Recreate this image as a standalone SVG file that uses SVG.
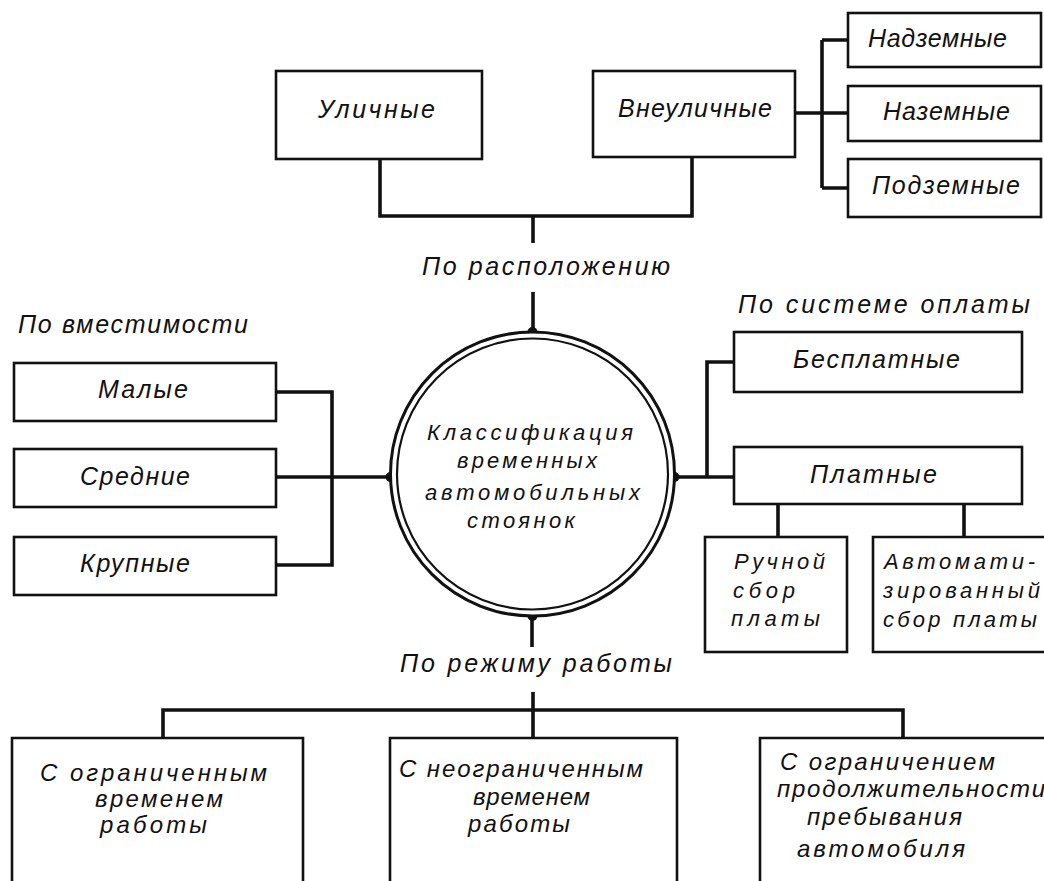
<svg xmlns="http://www.w3.org/2000/svg" width="1044" height="881" viewBox="0 0 1044 881">
<style>
.box{fill:#fff;stroke:#111;stroke-width:2.6}
.open{fill:#fff;stroke:#111;stroke-width:2.6}
.t{font-family:"Liberation Sans",Arial,sans-serif;font-style:italic;font-size:25px;fill:#111}
.s{font-size:22px}
.b{font-size:24px}
.c{fill:none;stroke:#111;stroke-width:3.6}
.dot{fill:#111}
</style>
<rect width="1044" height="881" fill="#fff"/>
<g id="connectors">
<path class="c" d="M380,159 V216 H692 V157"/>
<path class="c" d="M533,216 V243"/>
<path class="c" d="M533,292 V332"/>
<path class="c" d="M795,113 H848 M822,40 V188 M822,40 H848 M822,188 H848"/>
<path class="c" d="M276,392 H332 V565 H276 M276,477 H390"/>
<path class="c" d="M675,477 H734 M707,477 V362 H734"/>
<path class="c" d="M778,504 V537 M964,504 V537"/>
<path class="c" d="M532,616 V647 M533,692 V738 M163,738 V710 H903 V738"/>
<circle class="dot" cx="532.5" cy="332" r="5"/>
<circle class="dot" cx="390.5" cy="477" r="5"/>
<circle class="dot" cx="674.5" cy="477" r="5"/>
<circle class="dot" cx="532.5" cy="616" r="5"/>
</g>
<g id="center">
<circle cx="532.5" cy="474" r="142" fill="#fff" stroke="#111" stroke-width="3"/>
<circle cx="532.5" cy="474" r="135.5" fill="none" stroke="#111" stroke-width="2.2"/>
<text class="t s" x="427" y="440" textLength="206" lengthAdjust="spacing">Классификация</text>
<text class="t s" x="457" y="468" textLength="140" lengthAdjust="spacing">временных</text>
<text class="t s" x="425" y="500" textLength="215" lengthAdjust="spacing">автомобильных</text>
<text class="t s" x="467" y="528" textLength="108" lengthAdjust="spacing">стоянок</text>
</g>
<g id="label-location"><text class="t" x="422" y="275" textLength="248" lengthAdjust="spacing">По  расположению</text></g>
<g id="label-capacity"><text class="t" x="18" y="333" textLength="230" lengthAdjust="spacing">По  вместимости</text></g>
<g id="label-payment"><text class="t" x="738" y="313" textLength="292" lengthAdjust="spacing">По  системе   оплаты</text></g>
<g id="label-mode"><text class="t" x="400" y="672" textLength="272" lengthAdjust="spacing">По  режиму   работы</text></g>
<g id="street"><rect class="box" x="276" y="71" width="206" height="88"/><text class="t" x="318" y="118" textLength="117" lengthAdjust="spacing">Уличные</text></g>
<g id="offstreet"><rect class="box" x="593" y="71" width="202" height="86"/><text class="t" x="618" y="117" textLength="154" lengthAdjust="spacing">Внеуличные</text></g>
<g id="above"><rect class="box" x="848" y="13" width="193" height="54"/><text class="t" x="868" y="47" textLength="139" lengthAdjust="spacing">Надземные</text></g>
<g id="ground"><rect class="box" x="848" y="86" width="193" height="55"/><text class="t" x="883" y="120" textLength="127" lengthAdjust="spacing">Наземные</text></g>
<g id="under"><rect class="box" x="848" y="159" width="193" height="58"/><text class="t" x="872" y="194" textLength="148" lengthAdjust="spacing">Подземные</text></g>
<g id="small"><rect class="box" x="14" y="363" width="262" height="58"/><text class="t" x="98" y="398" textLength="90" lengthAdjust="spacing">Малые</text></g>
<g id="medium"><rect class="box" x="14" y="449" width="262" height="58"/><text class="t" x="80" y="485" textLength="110" lengthAdjust="spacing">Средние</text></g>
<g id="large"><rect class="box" x="14" y="537" width="262" height="58"/><text class="t" x="80" y="572" textLength="110" lengthAdjust="spacing">Крупные</text></g>
<g id="free"><rect class="box" x="734" y="332" width="288" height="60"/><text class="t" x="793" y="368" textLength="167" lengthAdjust="spacing">Бесплатные</text></g>
<g id="paid"><rect class="box" x="734" y="447" width="288" height="57"/><text class="t" x="810" y="483" textLength="127" lengthAdjust="spacing">Платные</text></g>
<g id="manual"><rect class="box" x="705" y="537" width="142" height="115"/>
<text class="t s" x="734" y="569" textLength="91" lengthAdjust="spacing">Ручной</text>
<text class="t s" x="733" y="598" textLength="62" lengthAdjust="spacing">сбор</text>
<text class="t s" x="731" y="626" textLength="89" lengthAdjust="spacing">платы</text></g>
<g id="auto"><path class="open" d="M1046,537 H873 V652 H1046"/>
<text class="t s" x="884" y="569" textLength="151" lengthAdjust="spacing">Автомати-</text>
<text class="t s" x="883" y="598" textLength="157" lengthAdjust="spacing">зированный</text>
<text class="t s" x="883" y="627" textLength="154" lengthAdjust="spacing">сбор платы</text></g>
<g id="limited"><path class="open" d="M12,890 V738 H303 V890"/>
<text class="t b" x="40" y="781" textLength="227" lengthAdjust="spacing">С  ограниченным</text>
<text class="t b" x="95" y="807" textLength="128" lengthAdjust="spacing">временем</text>
<text class="t b" x="100" y="833" textLength="107" lengthAdjust="spacing">работы</text></g>
<g id="unlimited"><path class="open" d="M390,890 V738 H677 V890"/>
<text class="t b" x="399" y="777" textLength="244" lengthAdjust="spacing">С неограниченным</text>
<text class="t b" x="473" y="805" textLength="117" lengthAdjust="spacing">временем</text>
<text class="t b" x="468" y="832" textLength="102" lengthAdjust="spacing">работы</text></g>
<g id="duration"><path class="open" d="M760,890 V738 H1046"/>
<text class="t b" x="780" y="770" textLength="215" lengthAdjust="spacing">С  ограничением</text>
<text class="t b" x="777" y="797" textLength="268" lengthAdjust="spacing">продолжительности</text>
<text class="t b" x="807" y="825" textLength="155" lengthAdjust="spacing">пребывания</text>
<text class="t b" x="797" y="857" textLength="168" lengthAdjust="spacing">автомобиля</text></g>
</svg>
